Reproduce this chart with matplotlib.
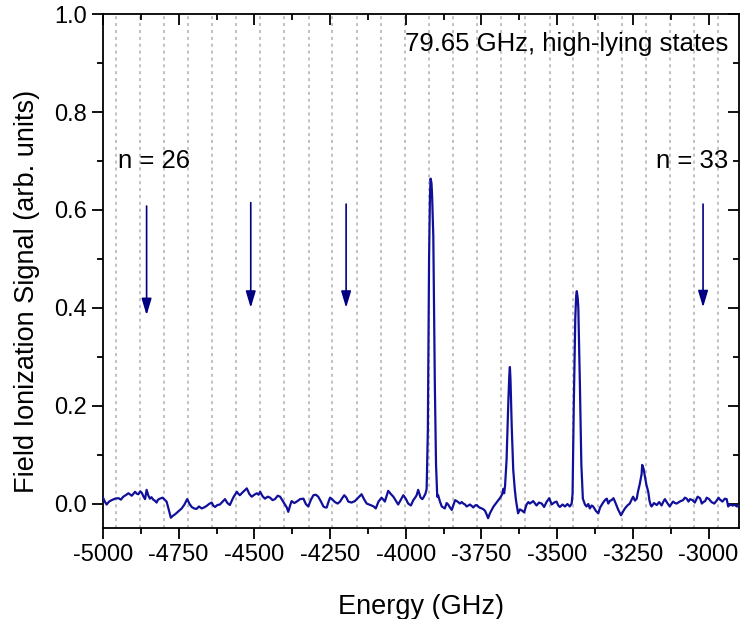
import numpy as np
import matplotlib.pyplot as plt
from matplotlib.ticker import MultipleLocator

plt.rcParams['font.family'] = ['Liberation Sans', 'DejaVu Sans']
plt.rcParams['axes.unicode_minus'] = False

# spectrum (energy in GHz, signal in arb. units), 10 per row
energy = [-5000, -4994, -4988, -4980, -4971, -4960, -4949, -4941, -4933, -4925,
          -4916, -4905, -4894, -4888, -4883, -4877, -4872, -4866, -4861, -4856,
          -4850, -4845, -4840, -4834, -4829, -4823, -4818, -4812, -4803, -4795,
          -4790, -4783, -4776, -4769, -4762, -4751, -4740, -4731, -4722, -4714,
          -4707, -4699, -4691, -4683, -4674, -4666, -4658, -4650, -4641, -4636,
          -4630, -4622, -4614, -4605, -4597, -4589, -4581, -4570, -4558, -4553,
          -4548, -4537, -4525, -4517, -4509, -4500, -4492, -4486, -4481, -4473,
          -4465, -4456, -4448, -4440, -4432, -4423, -4415, -4407, -4399, -4393,
          -4388, -4382, -4377, -4368, -4360, -4349, -4338, -4330, -4322, -4313,
          -4305, -4297, -4289, -4280, -4272, -4266, -4261, -4255, -4250, -4242,
          -4234, -4225, -4217, -4210, -4203, -4196, -4190, -4179, -4168, -4157,
          -4146, -4137, -4129, -4121, -4113, -4106, -4099, -4090, -4080, -4074,
          -4069, -4063, -4058, -4050, -4041, -4033, -4025, -4016, -4008, -4000,
          -3992, -3983, -3975, -3969, -3964, -3959, -3951, -3945, -3940, -3935,
          -3931, -3927, -3923, -3920, -3918, -3915, -3913, -3909, -3904, -3900,
          -3896, -3893, -3887, -3881, -3876, -3871, -3865, -3860, -3854, -3848,
          -3842, -3837, -3829, -3821, -3815, -3810, -3804, -3799, -3793, -3788,
          -3782, -3777, -3771, -3766, -3757, -3749, -3743, -3738, -3733, -3728,
          -3722, -3716, -3710, -3705, -3699, -3694, -3688, -3683, -3680, -3678,
          -3675, -3672, -3667, -3661, -3658, -3656, -3654, -3650, -3645, -3640,
          -3636, -3629, -3623, -3617, -3609, -3601, -3595, -3590, -3579, -3568,
          -3560, -3551, -3543, -3535, -3526, -3518, -3510, -3502, -3496, -3491,
          -3482, -3474, -3466, -3458, -3452, -3449, -3445, -3440, -3437, -3435,
          -3432, -3430, -3425, -3420, -3415, -3408, -3403, -3397, -3392, -3386,
          -3381, -3372, -3364, -3358, -3353, -3347, -3342, -3336, -3331, -3325,
          -3320, -3314, -3309, -3303, -3298, -3293, -3289, -3282, -3276, -3268,
          -3260, -3254, -3249, -3243, -3237, -3233, -3227, -3221, -3219, -3214,
          -3210, -3205, -3199, -3195, -3191, -3188, -3180, -3171, -3163, -3155,
          -3149, -3144, -3136, -3128, -3122, -3117, -3111, -3105, -3095, -3084,
          -3078, -3072, -3066, -3061, -3053, -3045, -3036, -3028, -3022, -3017,
          -3011, -3006, -2998, -2990, -2981, -2973, -2967, -2962, -2954, -2946,
          -2940, -2935, -2929, -2921, -2913, -2906, -2900]
signal = [0.012, 0.004, -0.002, 0.004, 0.007, 0.010, 0.011, 0.008, 0.014, 0.017,
          0.021, 0.016, 0.024, 0.020, 0.019, 0.025, 0.022, 0.014, 0.009, 0.028,
          0.016, 0.010, 0.013, 0.008, 0.006, 0.002, 0.008, 0.010, 0.012, 0.007,
          0.004, -0.012, -0.029, -0.025, -0.022, -0.016, -0.010, -0.002, 0.009, -0.001,
          -0.007, -0.010, -0.011, -0.006, -0.010, -0.008, -0.005, -0.001, 0.002, -0.004,
          -0.007, -0.003, -0.002, 0.004, 0.009, 0.001, -0.003, 0.012, 0.024, 0.020,
          0.017, 0.024, 0.031, 0.020, 0.014, 0.018, 0.021, 0.018, 0.024, 0.015,
          0.010, 0.014, 0.012, 0.007, 0.009, 0.016, 0.014, 0.006, -0.002, -0.008,
          -0.017, -0.004, 0.005, 0.001, 0.004, 0.009, 0.010, -0.001, -0.006, 0.008,
          0.017, 0.018, 0.014, 0.004, -0.006, -0.008, -0.008, 0.004, 0.012, 0.008,
          0.003, 0.000, 0.004, 0.011, 0.017, 0.012, 0.004, 0.002, 0.005, 0.012,
          0.019, 0.008, 0.000, -0.002, -0.004, -0.006, -0.010, 0.004, 0.012, 0.008,
          0.004, 0.016, 0.026, 0.020, 0.014, 0.006, -0.002, 0.008, 0.017, 0.010,
          0.000, -0.004, 0.007, 0.012, 0.017, 0.028, 0.012, 0.009, 0.014, 0.020,
          0.030, 0.150, 0.500, 0.630, 0.664, 0.655, 0.630, 0.547, 0.247, 0.080,
          0.014, 0.017, 0.004, -0.006, -0.008, -0.010, 0.001, -0.002, -0.008, -0.013,
          -0.002, 0.007, 0.004, 0.000, 0.003, 0.000, -0.002, -0.006, -0.004, -0.002,
          -0.005, -0.008, -0.004, -0.003, -0.008, -0.010, -0.012, -0.015, -0.022, -0.030,
          -0.020, -0.013, -0.006, -0.002, 0.003, 0.007, 0.012, 0.017, 0.022, 0.030,
          0.021, 0.036, 0.089, 0.212, 0.262, 0.279, 0.253, 0.158, 0.069, 0.030,
          0.007, -0.020, -0.012, -0.014, -0.018, -0.002, 0.003, 0.000, 0.005, -0.004,
          0.002, 0.000, -0.007, 0.003, 0.011, -0.002, 0.002, 0.004, -0.004, -0.007,
          -0.002, -0.006, -0.001, -0.006, 0.000, 0.020, 0.200, 0.380, 0.425, 0.434,
          0.420, 0.400, 0.250, 0.080, 0.010, -0.002, -0.006, -0.001, -0.010, -0.004,
          -0.006, -0.015, -0.020, -0.008, -0.003, 0.003, 0.007, 0.010, 0.000, 0.006,
          0.007, 0.011, 0.004, -0.005, -0.013, -0.019, -0.024, -0.016, -0.010, -0.004,
          0.000, 0.008, 0.014, 0.006, 0.010, 0.024, 0.040, 0.060, 0.079, 0.070,
          0.055, 0.038, 0.024, 0.006, -0.003, -0.006, 0.001, -0.003, 0.003, -0.004,
          0.004, 0.009, 0.001, -0.006, 0.000, 0.004, 0.001, 0.000, 0.004, 0.007,
          0.012, 0.010, 0.004, 0.009, 0.007, 0.002, 0.014, 0.011, 0.000, 0.003,
          0.005, 0.012, 0.009, 0.003, 0.000, 0.006, 0.012, 0.008, 0.004, 0.010,
          0.009, -0.006, -0.002, -0.004, -0.003, -0.006, -0.004]

# positions of the state markers (GHz)
state_lines = [-4958, -4879, -4799, -4719, -4640, -4560, -4481, -4401, -4321,
               -4242, -4162, -4083, -4003, -3923, -3844, -3764, -3684, -3605,
               -3525, -3446, -3366, -3286, -3207, -3127, -3047, -2968]

arrow_x = [-4856, -4512, -4197, -3018]
arrow_top = [0.608, 0.615, 0.612, 0.612]
arrow_tip = [0.385, 0.400, 0.400, 0.401]

assert len(energy) == len(signal)

fig = plt.figure(figsize=(7.41, 6.19), dpi=100)
ax = fig.add_axes([0.139, 0.147, 0.858, 0.830])

for xv in state_lines:
    ax.axvline(xv, color='#b0b0b0', lw=1.1, ls=(0, (2, 2.5)), zorder=1)

ax.plot(energy, signal, color='#10109a', lw=1.6, zorder=3)

for xv, y0, y1 in zip(arrow_x, arrow_top, arrow_tip):
    ax.annotate('', xy=(xv, y1), xytext=(xv, y0),
                arrowprops=dict(arrowstyle='-|>,head_length=1.0,head_width=0.3',
                                color='#000080', lw=1.2, shrinkA=0, shrinkB=0),
                zorder=4)

ax.text(-2935, 0.94, '79.65 GHz, high-lying states', ha='right', va='center', fontsize=18.5)
ax.text(-4952, 0.70, 'n = 26', ha='left', va='center', fontsize=18.5)
ax.text(-2935, 0.70, 'n = 33', ha='right', va='center', fontsize=18.5)

ax.set_xlim(-5000, -2900)
ax.set_ylim(-0.05, 1.0)
ax.xaxis.set_major_locator(MultipleLocator(250))
ax.xaxis.set_minor_locator(MultipleLocator(125))
ax.yaxis.set_minor_locator(MultipleLocator(0.1))
ax.set_yticks([0.0, 0.2, 0.4, 0.6, 0.8, 1.0])
ax.set_yticklabels(['0.0', '0.2', '0.4', '0.6', '0.8', '1.0'])

ax.tick_params(axis='both', which='major', labelsize=17, length=8, width=1.3,
               direction='out')
ax.tick_params(axis='both', which='minor', length=4.5, width=1.3, direction='out')
ax.tick_params(which='both', top=True, right=True)

# mirrored ticks on top/right point inward
for t in ax.xaxis.get_major_ticks() + ax.xaxis.get_minor_ticks():
    t.tick2line.set_marker(3)
for t in ax.yaxis.get_major_ticks() + ax.yaxis.get_minor_ticks():
    t.tick2line.set_marker(0)

for sp in ax.spines.values():
    sp.set_linewidth(1.3)

ax.set_xlabel('Energy (GHz)', fontsize=19.5, labelpad=20)
ax.set_ylabel('Field Ionization Signal (arb. units)', fontsize=19.5)
ax.yaxis.set_label_coords(-0.099, 0.46)

fig.savefig('out.png', dpi=100)
